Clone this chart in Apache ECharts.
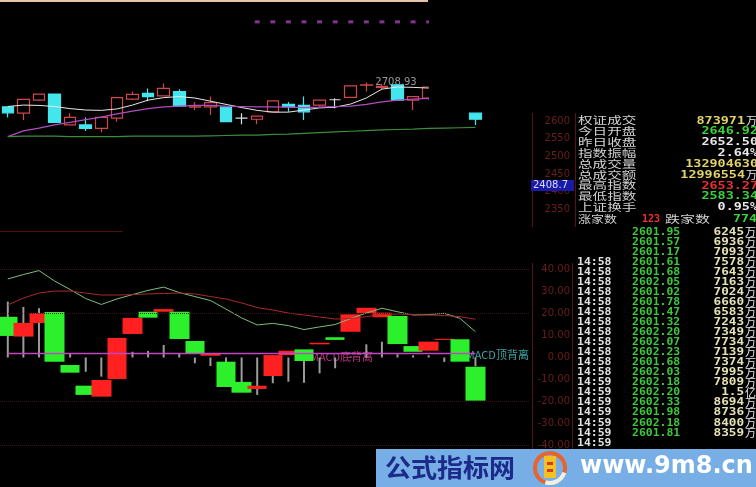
<!DOCTYPE html>
<html><head><meta charset="utf-8">
<script src="https://cdn.jsdelivr.net/npm/echarts@6/dist/echarts.min.js"></script>
<style>html,body{margin:0;padding:0;background:#000}#c{width:756px;height:487px}</style>
</head><body><div id="c"></div>
<script>
// ---------- DATA ----------
const categories = ['1','2','3','4','5','6','7','8','9','10','11','12','13','14','15','16','17','18','19','20','21','22','23','24','25','26','27','28','29','30','31','32','33','34'];
// price candles [open, close, low, high]
const priceOHLC = [
  [2640,2623,2610,2641],[2622,2661,2603,2661],[2659,2676,2658,2677],[2676,2596,2595,2677],
  [2589,2610,2588,2622],[2589,2579,2572,2610],[2579,2610,2568,2611],[2608,2666,2598,2666],
  [2662,2675,2659,2683],[2678,2669,2656,2692],[2671,2692,2670,2706],[2683,2642,2641,2690],
  [2639,2640,2631,2654],[2640,2652,2617,2669],[2639,2598,2597,2640],[2608,2608,2591,2622],
  [2605,2614,2591,2615],[2626,2657,2625,2658],[2647,2640,2626,2654],[2644,2626,2603,2669],
  [2645,2659,2640,2660],[2660,2660,2636,2664],[2667,2699,2666,2700],[2701,2702,2683,2708.9],
  [2695,2698,2690,2705],[2702,2659,2658,2703],[2659,2669,2631,2670],[2665,2696,2660,2697],
  '-','-',[2622,2605,2589,2622]
];
const ma5 = [2641,2645,2644,2641,2635,2631,2630,2634,2645,2659,2666,2669,2665,2656,2647,2638,2630,2625,2625,2631,2637,2639,2648,2665,2690,2696,2695,2693,null,null,null];
const ma20 = [2556,2572,2580,2589,2596,2604,2611,2620,2628,2635,2640,2642,2644,2644,2642,2641,2640,2640,2639,2638,2639,2641,2642,2647,2654,2659,2662,2664,null,null,null];
const ma60 = [2556,2557,2557,2557,2556,2556,2556,2556,2557,2557,2557,2557,2557,2558,2559,2560,2560,2562,2563,2565,2567,2569,2571,2573,2575,2576,2577,2579,2580,2581,2582];
const signalDots = [null,null,null,null,null,null,null,null,null,null,null,null,null,null,null,null,2880,2880,2880,2880,2880,2880,2880,2880,2880,2880,2880,2880,null,null,null];
const peakMark = [23, 2708.9];
const peakText = '2708.93';
const priceTicks = [2350,2400,2450,2500,2550,2600];

// indicator boxes [open, close]
const macdOC = [
  [18.5,9.8],[9.5,15.7],[15.7,20.2],[20.7,-1.9],[-3.4,-6.9],[-12.8,-17.0],[-17.8,-10.2],[-9.8,8.9],
  [10.7,18.0],[20.8,18.1],[20.8,22.0],[20.8,8.4],[7.5,1.6],[0.8,1.6],[-1.9,-13.4],[-11.1,-16.0],
  [-14.3,-12.8],[-8.4,1.1],[1.1,3.1],[3.7,-1.6],[6.0,6.7],[9.2,8.0],[11.7,19.6],[20.1,22.6],
  [18.3,20.4],[18.9,6.1],[5.2,2.6],[3.1,7.2],[8.0,8.5],[8.3,-1.9],[-4.2,-19.6]
];
const macdStick = [25.4,23,22.4,16,2,-6.5,-8.7,-3,2.6,3,5.7,1.9,-2.6,-3.9,-2.6,-13.3,-17,-11.7,-11,-11.5,-7.2,-4.9,0.5,6,7.2,1.5,1,1,-2,-1,-4];
const macdFast = [35.7,37.7,39.5,34.8,30.9,26.8,24.1,26.6,28.6,30.5,32,29.5,27.7,25.9,22,18,14.8,15.5,14.5,12.7,13.9,15,17.7,20.2,22.4,20.8,19.3,19.5,20.1,17.8,11.7];
const macdSlow = [23.9,27,29.3,30.2,30.2,29.3,28.4,28.4,28.6,28.9,29.1,29.3,28.9,27.7,26.6,24.8,22.7,21.6,20.2,19.3,18.4,17.5,17.7,18.6,19.5,19.8,19.5,19.3,19.1,18.6,17.4];
const zeroRef = [1.8,1.8,1.8,1.8,1.8,1.8,1.8,1.8,1.8,1.8,1.8,1.8,1.8,1.8,1.8,1.8,1.8,1.8,1.8,1.8,1.8,1.8,1.8,1.8,1.8,1.8,1.8,1.8,1.8,1.8,1.8];
const divergenceMarks = [{i:19, v:0.3, text:'MACD底背离', color:'#e0409a'}, {i:29, v:1.3, text:'MACD顶背离', color:'#4cc8c8'}];
const macdTicks = [-40,-30,-20,-10,0,10,20,30,40];
const macdGuides = [40,20,-20,-40];

// info panel
const infoLabels = ['权证成交','今日开盘','昨日收盘','指数振幅','总成交量','总成交额','最高指数','最低指数','上证换手'];
const infoValues = ['873971','2646.92','2652.50','2.64%','132904630','12996554','2653.27','2583.34','0.95%'];
const infoUnits  = ['万','','','','','万','','',''];
const infoKinds  = ['vol','down','flat','flat','vol','vol','up','down','flat'];
const breadth = {upLabel:'涨家数', up:'123', downLabel:'跌家数', down:'774'};
const cornerPrice = '2408.7';

// tick list
const tickTimes = ['','','','14:58','14:58','14:58','14:58','14:58','14:58','14:58','14:58','14:58','14:58','14:58','14:58','14:59','14:59','14:59','14:59','14:59','14:59','14:59'];
const tickPrices = ['2601.95','2601.57','2601.17','2601.61','2601.68','2602.05','2601.02','2601.78','2601.47','2601.32','2602.20','2602.07','2602.23','2601.68','2602.03','2602.18','2602.20','2602.33','2601.98','2602.18','2601.81'];
const tickVolumes = ['6245','6936','7093','7578','7643','7163','7024','6660','6583','7243','7349','7734','7139','7374','7995','7809','1.5','8694','8736','8400','8359'];
const tickUnits = ['万','万','万','万','万','万','万','万','万','万','万','万','万','万','万','万','亿','万','万','万','万'];

const bannerTitle = '公式指标网';
const bannerUrl = 'www.9m8.cn';

// ---------- CHART ----------
const chart = echarts.init(document.getElementById('c'), null, {renderer:'canvas'});
const kindColor = {vol:'#e2d468', down:'#3cd23c', flat:'#e8e8e8', up:'#ee3030'};
const G = [];
function txt(x, y, text, fill, font, align, sx, z) {
  G.push({type:'text', x:x, y:y, scaleX:sx||1, z:z||100, silent:true,
    style:{text:text, x:0, y:0, fill:fill, font:font, textAlign:align||'left', textVerticalAlign:'middle', align:align||'left', verticalAlign:'middle'}});
}
function vline(x, y1, y2, c) { G.push({type:'line', z:100, silent:true, shape:{x1:x,y1:y1,x2:x,y2:y2}, style:{stroke:c, lineWidth:1}}); }

// decorations
G.push({type:'rect', z:100, silent:true, shape:{x:0,y:0,width:428,height:2}, style:{fill:'#e6c4a8'}});
G.push({type:'rect', z:50, silent:true, shape:{x:429,y:0,width:101,height:110}, style:{fill:'#000'}});
G.push({type:'line', z:100, silent:true, shape:{x1:0,y1:231.5,x2:123,y2:231.5}, style:{stroke:'#4e0e0e', lineWidth:1}});
vline(532.5,113,227,'#561414'); vline(575.5,113,227,'#561414');
vline(532.5,263,453,'#561414'); vline(572.5,263,453,'#561414');
G.push({type:'rect', z:100, silent:true, shape:{x:531,y:180,width:43,height:11}, style:{fill:'#1a1aa8'}});
txt(533, 185.5, cornerPrice, '#d8dcff', '10px "DejaVu Sans"', 'left', 1, 101);

const CJK = '10px "Noto Sans CJK SC"';
const CJKU = '11px "Noto Sans CJK SC"';
const MONO = 'bold 11px "DejaVu Sans Mono"';
for (let i = 0; i < infoLabels.length; i++) {
  const y = 120.7 + i * 10.83;
  txt(578, y, infoLabels[i], '#d2d2d2', CJK, 'left', 1.46);
  const c = kindColor[infoKinds[i]];
  if (infoUnits[i]) {
    txt(757, y, infoUnits[i], '#e8e8e8', CJKU, 'right', 1.0);
    txt(745, y, infoValues[i], c, MONO, 'right', 1.22);
  } else {
    txt(758, y, infoValues[i], c, MONO, 'right', 1.22);
  }
}
txt(578, 219.5, breadth.upLabel, '#d2d2d2', CJK, 'left', 1.3);
txt(642, 219.5, breadth.up, '#ee3030', 'bold 10px "DejaVu Sans Mono"', 'left', 1.0);
txt(665, 219.5, breadth.downLabel, '#d2d2d2', CJK, 'left', 1.5);
txt(733, 219.5, breadth.down, '#3cd23c', MONO, 'left', 1.2);

for (let k = 0; k < tickTimes.length; k++) {
  const y = 231.7 + k * 10.05;
  if (tickTimes[k]) txt(577, y, tickTimes[k], '#e2e2e2', MONO, 'left', 1.04);
  if (k < tickPrices.length) {
    txt(632, y, tickPrices[k], '#3cc83c', MONO, 'left', 1.04);
    txt(744, y, tickVolumes[k], '#e6e2b4', MONO, 'right', 1.15);
    txt(745, y, tickUnits[k], '#e8e8e8', CJKU, 'left', 1.0);
  }
}
// banner
G.push({type:'rect', z:110, silent:true, shape:{x:376,y:449,width:380,height:38}, style:{fill:'#78aee6'}});
txt(385, 467, bannerTitle, '#1c2a8a', 'bold 25px "Noto Sans CJK SC"', 'left', 1.04, 111);
txt(580, 467, bannerUrl, '#ffffff', 'bold 24px "DejaVu Sans"', 'left', 1, 111);
G.push({type:'arc', z:111, silent:true, shape:{cx:550,cy:468,r:15,startAngle:Math.PI*0.6,endAngle:Math.PI*2.1}, style:{stroke:'#e8642e', lineWidth:4, fill:null}});
G.push({type:'arc', z:111, silent:true, shape:{cx:550,cy:468,r:15,startAngle:Math.PI*0.1,endAngle:Math.PI*0.6}, style:{stroke:'#f4f0e0', lineWidth:4, fill:null}});
G.push({type:'rect', z:112, silent:true, shape:{x:544,y:456,width:12,height:22}, style:{fill:'#f2c224'}});
G.push({type:'rect', z:113, silent:true, shape:{x:547,y:462,width:6,height:3}, style:{fill:'#d83a1e'}});
G.push({type:'rect', z:113, silent:true, shape:{x:547,y:469,width:6,height:3}, style:{fill:'#d83a1e'}});

const option = {
  backgroundColor: '#000',
  animation: false,
  grid: [
    {left:-5, right:226, top:14.8, height:212.4},
    {left:-5, right:226, top:247.5, height:220}
  ],
  xAxis: [
    {type:'category', gridIndex:0, data:categories, show:false},
    {type:'category', gridIndex:1, data:categories, show:false}
  ],
  yAxis: [
    {type:'value', gridIndex:0, position:'right', min:2300, max:2900, interval:50,
     axisLine:{show:false}, axisTick:{show:false}, splitLine:{show:false},
     axisLabel:{margin:40, align:'right', color:'#6c1c1c', fontSize:10, fontFamily:'DejaVu Sans',
       formatter: v => priceTicks.includes(v) ? String(v) : ''}},
    {type:'value', gridIndex:1, position:'right', min:-50, max:50, interval:10,
     axisLine:{show:false}, axisTick:{show:false}, splitLine:{show:false},
     axisLabel:{margin:40, align:'right', color:'#6c1c1c', fontSize:10, fontFamily:'DejaVu Sans',
       formatter: v => macdTicks.includes(v) ? v.toFixed(2) : ''}}
  ],
  series: [
    {type:'scatter', xAxisIndex:0, yAxisIndex:0, z:1, symbolSize:0, silent:true,
     data:[peakMark],
     label:{show:true, position:'right', distance:9, formatter: peakText, color:'#bdbdbd', fontSize:10, fontFamily:'DejaVu Sans'}},
    {type:'candlestick', xAxisIndex:0, yAxisIndex:0, barWidth:12, silent:true,
     data: priceOHLC,
     itemStyle:{color:'rgba(0,0,0,0)', color0:'#44e6ee', borderColor:'#d04848', borderColor0:'#44e6ee', borderColorDoji:'#d8e0e0', borderWidth:1.2}},
    {type:'line', xAxisIndex:0, yAxisIndex:0, data:ma5, symbol:'none', silent:true, lineStyle:{color:'#e8e8e8', width:1}},
    {type:'line', xAxisIndex:0, yAxisIndex:0, data:ma20, symbol:'none', silent:true, lineStyle:{color:'#b24cc0', width:1.2}},
    {type:'line', xAxisIndex:0, yAxisIndex:0, data:ma60, symbol:'none', silent:true, lineStyle:{color:'#3c8c3c', width:1.2}},
    {type:'scatter', xAxisIndex:0, yAxisIndex:0, data:signalDots, symbol:'rect', symbolSize:[5,3], silent:true, itemStyle:{color:'#a440b4'}},

    {type:'bar', xAxisIndex:1, yAxisIndex:1, data:macdStick, barWidth:2, silent:true, itemStyle:{color:'#9c9c9c'}},
    {type:'line', xAxisIndex:1, yAxisIndex:1, data:zeroRef, symbol:'none', silent:true, lineStyle:{color:'#c444c4', width:1.5},
     markLine:{silent:true, symbol:'none', label:{show:false}, lineStyle:{type:'dotted', color:'#3a1212', width:1},
       data: macdGuides.map(v => ({yAxis:v}))}},
    {type:'line', xAxisIndex:1, yAxisIndex:1, data:macdFast, symbol:'none', silent:true, lineStyle:{color:'#7cbf7c', width:1}},
    {type:'line', xAxisIndex:1, yAxisIndex:1, data:macdSlow, symbol:'none', silent:true, lineStyle:{color:'#a82a2a', width:1}},
    {type:'scatter', xAxisIndex:1, yAxisIndex:1, z:1, symbolSize:0, silent:true,
     data: divergenceMarks.map(d => ({value:[d.i, d.v], label:{color:d.color}})),
     label:{show:true, position:'right', distance:6, fontSize:11, fontFamily:'Noto Sans CJK SC',
       formatter: p => divergenceMarks[p.dataIndex].text}},
    {type:'candlestick', xAxisIndex:1, yAxisIndex:1, barWidth:20, silent:true,
     data: macdOC.map(d => [d[0], d[1], Math.min(d[0], d[1]), Math.max(d[0], d[1])]),
     itemStyle:{color:'#ff2020', color0:'#2cf02c', borderColor:'#ff2020', borderColor0:'#2cf02c', borderColorDoji:'#ff2020', borderWidth:0}}
  ],
  graphic: G
};
chart.setOption(option);
</script>
</body></html>
